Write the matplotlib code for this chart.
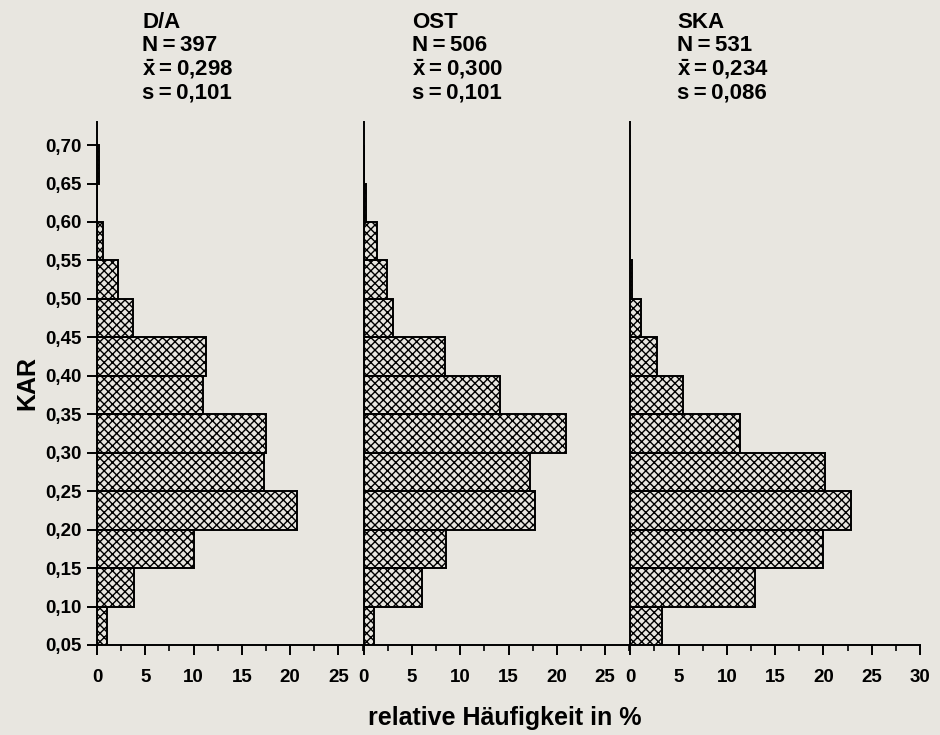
import matplotlib
matplotlib.use("Agg")
import matplotlib.pyplot as plt
from matplotlib.ticker import MultipleLocator, FixedLocator

plt.rcParams['font.family'] = ['Liberation Sans', 'DejaVu Sans']
plt.rcParams['font.weight'] = 'bold'
plt.rcParams['mathtext.fontset'] = 'custom'
plt.rcParams['mathtext.bf'] = 'Liberation Sans:bold'
plt.rcParams['mathtext.rm'] = 'Liberation Sans:bold'
plt.rcParams['hatch.linewidth'] = 1.0

# lower edges of the KAR classes (width 0.05)
kar_bins = [0.05, 0.10, 0.15, 0.20, 0.25, 0.30, 0.35, 0.40, 0.45, 0.50, 0.55, 0.60, 0.65]

# relative frequency in % per class
da = [1.0, 3.8, 10.0, 20.7, 17.3, 17.5, 11.0, 11.3, 3.7, 2.2, 0.6, 0.0, 0.25]
ost = [1.1, 6.0, 8.5, 17.7, 17.2, 21.0, 14.1, 8.4, 3.0, 2.4, 1.4, 0.2, 0.0]
ska = [3.3, 12.9, 20.0, 22.9, 20.2, 11.4, 5.5, 2.8, 1.1, 0.2, 0.0, 0.0, 0.0]

groups = ['D/A', 'OST', 'SKA']
n_values = ['397', '506', '531']
means = ['0,298', '0,300', '0,234']
sds = ['0,101', '0,101', '0,086']
series = [da, ost, ska]
x_max = [27.6, 27.6, 30]

y_ticks = [0.05, 0.10, 0.15, 0.20, 0.25, 0.30, 0.35, 0.40, 0.45, 0.50, 0.55, 0.60, 0.65, 0.70]

bg = '#e8e6e0'
fig = plt.figure(figsize=(9.4, 7.35), dpi=100, facecolor=bg)
gs = fig.add_gridspec(1, 3, width_ratios=x_max, wspace=0,
                      left=97 / 940, right=920 / 940, bottom=1 - 645 / 735, top=1 - 122 / 735)

header_x = [142, 412, 677]  # left edge of header text, px
eq = '\u2009=\u2009'

for i in range(3):
    ax = fig.add_subplot(gs[0, i])
    ax.set_facecolor('none')
    ax.barh(kar_bins, series[i], height=0.05, align='edge', fill=False, hatch='xxxx',
            edgecolor='black', linewidth=1.4)
    ax.set_xlim(0, x_max[i])
    ax.set_ylim(0.05, 0.73)
    for side in ['top', 'right']:
        ax.spines[side].set_visible(False)
    ax.spines['left'].set_linewidth(1.4)
    ax.spines['bottom'].set_linewidth(1.4)

    xt = list(range(0, int(x_max[i]) + 1, 5))
    ax.xaxis.set_major_locator(FixedLocator(xt))
    ax.xaxis.set_minor_locator(MultipleLocator(2.5))
    ax.tick_params(axis='x', which='major', length=7, width=1.4, pad=10, labelsize=13.5)
    ax.tick_params(axis='x', which='minor', length=4, width=1.2)
    ax.set_xticklabels([str(t) for t in xt], fontweight='bold')

    if i == 0:
        ax.set_yticks(y_ticks)
        ax.set_yticklabels([f'{t:.2f}'.replace('.', ',') for t in y_ticks], fontweight='bold')
        ax.tick_params(axis='y', length=7, width=1.4, pad=4, labelsize=13.5)
        ax.set_ylabel('KAR', fontsize=18, fontweight='bold', labelpad=4)
    else:
        ax.set_yticks([])

    # header block above each panel
    lines = [groups[i], 'N' + eq + n_values[i], r'$\bar{\mathbf{x}}$' + eq + means[i], 's' + eq + sds[i]]
    for k, line in enumerate(lines):
        fig.text(header_x[i] / 940, 1 - (22 + 23.5 * k) / 735, line, ha='left', va='center',
                 fontsize=16, fontweight='bold')

fig.text(505 / 940, 1 - 718 / 735, 'relative Häufigkeit in %', ha='center', va='center',
         fontsize=18, fontweight='bold')

fig.savefig('out.png', dpi=100, facecolor=bg)
